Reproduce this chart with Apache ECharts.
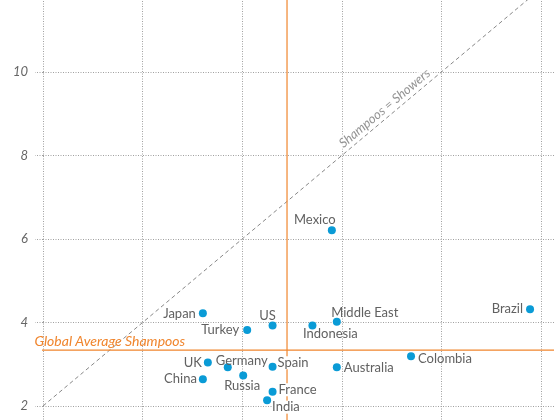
<!DOCTYPE html>
<html>
<head>
<meta charset="utf-8">
<script src="https://cdn.jsdelivr.net/npm/echarts@6/dist/echarts.min.js"></script>
<style>
html,body{margin:0;padding:0;background:#fff;}
#chart{width:554px;height:420px;}
</style>
</head>
<body>
<div id="chart"></div>
<script>
// ---- data ----
const countries = ['Japan','US','Turkey','UK','Germany','Russia','China','Spain','France','India','Indonesia','Middle East','Brazil','Colombia','Australia','Mexico'];
const showers   = [5.21, 6.61, 6.10, 5.31, 5.71, 6.02, 5.21, 6.61, 6.61, 6.50, 7.41, 7.90, 11.78, 9.39, 7.90, 7.80];
const shampoos  = [4.22, 3.93, 3.82, 3.04, 2.93, 2.73, 2.64, 2.94, 2.34, 2.14, 3.93, 4.02, 4.32, 3.19, 2.93, 6.21];
const avgShowers = 6.9;
const avgShampoos = 3.34;
const avgShampoosLabel = 'Global Average Shampoos';
const diagonalLabel = 'Shampoos = Showers';
const diagonalEnds = [2, 12];
const yTickValues = [2, 4, 6, 8, 10];

// ---- label placement (style only) ----
const placement = {
  'Japan':       {position:'left',   distance:3, offset:[0,0]},
  'US':          {position:'top',    distance:0, offset:[-5,1]},
  'Turkey':      {position:'left',   distance:4, offset:[0,0]},
  'UK':          {position:'left',   distance:2, offset:[0,0]},
  'Germany':     {position:'top',    distance:0, offset:[14,4]},
  'Russia':      {position:'bottom', distance:0, offset:[-1,0]},
  'China':       {position:'left',   distance:2, offset:[0,0]},
  'Spain':       {position:'right',  distance:1, offset:[0,-4], backgroundColor:'#fff'},
  'France':      {position:'right',  distance:2, offset:[0,-2], backgroundColor:'#fff'},
  'India':       {position:'right',  distance:1, offset:[0,7],  backgroundColor:'#fff'},
  'Indonesia':   {position:'bottom', distance:0, offset:[18,-2]},
  'Middle East': {position:'top',    distance:0, offset:[28,2]},
  'Brazil':      {position:'left',   distance:3, offset:[0,0]},
  'Colombia':    {position:'right',  distance:3, offset:[0,2]},
  'Australia':   {position:'right',  distance:3, offset:[0,1]},
  'Mexico':      {position:'top',    distance:0, offset:[-17,0]}
};

const FONT = 'Lato, "Open Sans", sans-serif';
const BLUE = '#0a9bd6';
const ORANGE = '#f0852d';
const GRID = '#a0a0a0';

const points = countries.map((c, i) => ({
  name: c,
  value: [showers[i], shampoos[i]],
  label: Object.assign({show:true, formatter:c}, placement[c])
}));

const chart = echarts.init(document.getElementById('chart'), null, {renderer:'canvas'});
chart.setOption({
  animation:false,
  backgroundColor:'#fff',
  grid:{left:43, right:-86.6, top:-11.5, bottom:-69.5, containLabel:false, outerBoundsMode:'none'},
  xAxis:{
    type:'value', min:2, max:14, interval:2,
    axisLine:{show:false},
    axisTick:{show:false},
    axisLabel:{show:false},
    splitLine:{show:true, lineStyle:{color:GRID, type:[1,1.5], width:1}}
  },
  yAxis:{
    type:'value', min:0, max:12, interval:2,
    axisLine:{show:false},
    axisTick:{show:true, length:8, lineStyle:{color:GRID, type:[1,1.5], width:1}},
    axisLabel:{
      show:true, margin:15, fontFamily:FONT, fontStyle:'italic', fontSize:13, color:'#666',
      formatter: v => yTickValues.indexOf(v) >= 0 ? String(v) : ''
    },
    splitLine:{show:true, lineStyle:{color:GRID, type:[1,1.5], width:1}}
  },
  series:[
    {
      type:'line', z:1, silent:true,
      data: diagonalEnds.map(v => [v, v]),
      symbol:'none',
      lineStyle:{color:'#888', width:1, type:[4,3]}
    },
    {
      type:'scatter', z:4, silent:true, clip:false,
      data:[[8.86, 9.13]],
      symbolSize:0,
      label:{show:true, position:'inside', rotate:40, formatter:diagonalLabel,
        fontFamily:FONT, fontStyle:'italic', fontSize:13, color:'#777',
        backgroundColor:'#fff', padding:[0,1]}
    },
    {
      type:'line', z:2, silent:true,
      data:[[avgShowers, 0],[avgShowers, 12]],
      symbol:'none',
      lineStyle:{color:ORANGE, width:1.2}
    },
    {
      type:'line', z:2, silent:true, clip:false,
      data:[
        {value:[1.84, avgShampoos], label:{show:true, position:'right', distance:0, offset:[-1,-9],
          formatter:avgShampoosLabel, fontFamily:FONT, fontStyle:'italic', fontSize:14, color:ORANGE}},
        {value:[14, avgShampoos]}
      ],
      symbol:'circle', symbolSize:1, showSymbol:true,
      itemStyle:{color:'rgba(0,0,0,0)'},
      lineStyle:{color:ORANGE, width:1.2}
    },
    {
      type:'scatter', z:5, silent:true,
      data: points,
      symbolSize:8,
      itemStyle:{color:BLUE, opacity:1},
      label:{fontFamily:FONT, fontSize:13, color:'#616161', padding:0}
    }
  ]
});
</script>
</body>
</html>
